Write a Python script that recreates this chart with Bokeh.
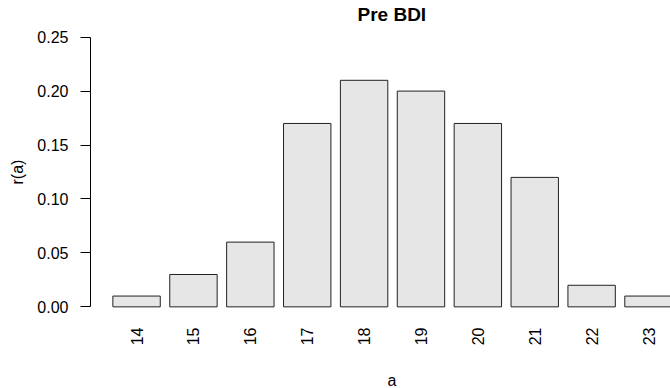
from bokeh.plotting import figure
from bokeh.models import Range1d, FixedTicker, ColumnDataSource, Title
from bokeh.embed import file_html
from bokeh.resources import INLINE
import math

# data
categories = ["14", "15", "16", "17", "18", "19", "20", "21", "22", "23"]
values = [0.01, 0.03, 0.06, 0.17, 0.21, 0.20, 0.17, 0.12, 0.02, 0.01]
y_ticks = [0.00, 0.05, 0.10, 0.15, 0.20, 0.25]
title_text = "Pre BDI"
x_label = "a"
y_label = "r(a)"

# R barplot-like positions: width 1, space 0.2
xpos = [0.7 + 1.2 * i for i in range(len(categories))]

FONT = "Liberation Sans"

p = figure(width=670, height=388, output_backend="svg", toolbar_location=None,
           x_range=Range1d(-0.272, 11.964), y_range=Range1d(-0.0108, 0.2608),
           min_border_left=90, min_border_right=0, min_border_top=25, min_border_bottom=70)
p.outline_line_color = None
p.xgrid.grid_line_color = None
p.ygrid.grid_line_color = None
p.background_fill_color = "white"
p.border_fill_color = "white"

src = ColumnDataSource(dict(x=xpos, top=values, cat=categories))
p.vbar(x="x", top="top", bottom=0, width=1.0, source=src,
       fill_color="#E6E6E6", line_color="#222222", line_width=1)

# y axis
ya = p.yaxis[0]
ya.ticker = FixedTicker(ticks=y_ticks)
ya.major_label_overrides = {t: f"{t:.2f}" for t in y_ticks}
ya.bounds = (0, 0.25)
ya.major_tick_out = 10
ya.major_tick_in = 0
ya.minor_tick_out = 0
ya.minor_tick_in = 0
ya.major_label_standoff = 12
ya.major_label_text_font = FONT
ya.major_label_text_font_size = "16px"
ya.major_label_text_color = "black"
ya.axis_line_color = "black"
ya.major_tick_line_color = "black"
ya.axis_label = y_label
ya.axis_label_text_font = FONT
ya.axis_label_text_font_size = "16px"
ya.axis_label_text_font_style = "normal"
ya.axis_label_text_color = "black"
ya.axis_label_standoff = 8

# x axis
xa = p.xaxis[0]
xa.ticker = FixedTicker(ticks=xpos)
xa.major_label_overrides = {x: c for x, c in zip(xpos, categories)}
xa.major_label_orientation = math.pi / 2
xa.axis_line_color = None
xa.major_tick_line_color = None
xa.minor_tick_line_color = None
xa.major_tick_out = 0
xa.major_tick_in = 0
xa.major_label_standoff = 9
xa.major_label_text_font = FONT
xa.major_label_text_font_size = "16px"
xa.major_label_text_color = "black"

# title and x label, centred on the R plot region (which extends past the window)
p.add_layout(Title(text=title_text, align="left", offset=267, standoff=1,
                   text_font=FONT, text_font_size="19px", text_font_style="bold",
                   text_color="black"), "above")
p.add_layout(Title(text="\n" + x_label, align="left", offset=297, standoff=0,
                   text_line_height=1.25,
                   text_font=FONT, text_font_size="16px", text_font_style="normal",
                   text_color="black"), "below")

open("out.html", "w").write(file_html(p, INLINE))
